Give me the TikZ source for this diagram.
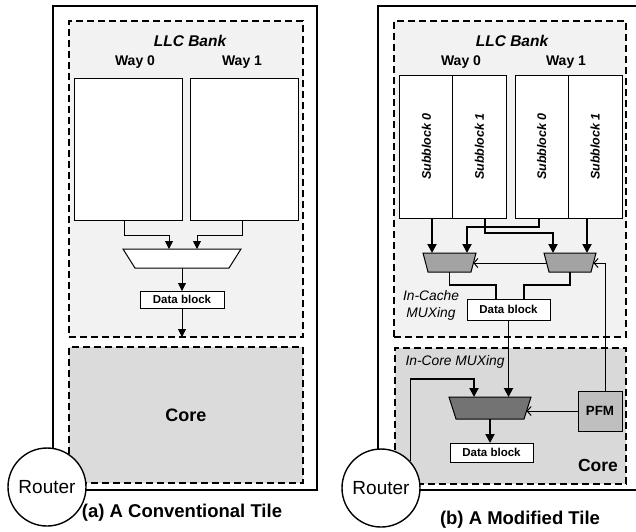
\documentclass[tikz,border=0pt]{standalone}
\usepackage{fontspec}
\setmainfont{Liberation Sans}
\usetikzlibrary{arrows.meta,calc}
\begin{document}
\begin{tikzpicture}[x=1pt,y=-1pt,
  frame/.style={line width=1.4pt},
  region/.style={draw, dash pattern=on 7pt off 4pt, line width=1.1pt, inner sep=0pt, outer sep=0pt},
  cell/.style={draw, fill=white, line width=1pt, inner sep=0pt, outer sep=0pt},
  muxbox/.style={inner sep=0pt, outer sep=0pt},
  muxline/.style={line width=1pt},
  thinarr/.style={line width=0.9pt, -{Triangle[length=8pt,width=8pt]}},
  thickarr/.style={line width=1.9pt, -{Triangle[length=9pt,width=9pt]}},
  bus/.style={line width=1.9pt},
  ctrl/.style={line width=1pt, -{Straight Barb[length=4pt,width=9pt]}},
  router/.style={draw, circle, fill=white, line width=1.4pt, minimum size=78pt, inner sep=0pt,
    font=\fontsize{19}{22}\selectfont},
  title/.style={font=\fontsize{15.5}{18}\selectfont\bfseries\itshape},
  way/.style={font=\fontsize{14}{17}\selectfont\bfseries},
  dblock/.style={font=\fontsize{11.5}{14}\selectfont\bfseries},
  caption/.style={font=\fontsize{18.5}{22}\selectfont\bfseries},
  sub/.style={cell, minimum width=53.5pt, minimum height=143pt,
    font=\fontsize{12.5}{15}\selectfont\bfseries\itshape},
  note/.style={font=\fontsize{13.8}{16.5}\selectfont\itshape}
]
\useasboundingbox (0,0) rectangle (636,531);

% ---------------- (a) conventional tile ----------------
\draw[frame] (53,6) rectangle (317,490);
\node[region, fill=black!5, minimum width=234pt, minimum height=316pt] (llcA) at (186,179) {};
\node[region, fill=black!14, minimum width=234pt, minimum height=136pt,
  font=\fontsize{18}{21}\selectfont\bfseries] (coreA) at (186,415) {Core};
\node[title] (llcAt) at (190,41) {LLC Bank};
\node[way] (w0At) at (135,62) {Way 0};
\node[way] (w1At) at (242,62) {Way 1};
\node[cell, minimum width=108pt, minimum height=142pt] (w0A) at (128,149) {};
\node[cell, minimum width=108pt, minimum height=142pt] (w1A) at (244,149) {};
\node[muxbox, minimum width=118pt, minimum height=19pt] (muxA) at (182,258.5) {};
\draw[muxline, fill=white] (muxA.north west) -- (muxA.north east)
  -- ([xshift=-12pt]muxA.south east) -- ([xshift=12pt]muxA.south west) -- cycle;
\node[cell, dblock, minimum width=84pt, minimum height=17pt] (dbA) at (182,299.5) {Data block};
\draw[thinarr] ([xshift=-4pt]w0A.south) -- ++(0,15) -| ([xshift=-13pt]muxA.north);
\draw[thinarr] ([xshift=-2pt]w1A.south) -- ++(0,15) -| ([xshift=15pt]muxA.north);
\draw[thinarr] (muxA.south) -- (dbA.north);
\draw[thinarr] (dbA.south) -- (dbA.south |- llcA.south);
\node[router] (rA) at (47,487) {Router};
\node[caption] (capA) at (182,513) {(a) A Conventional Tile};

% ---------------- (b) modified tile ----------------
\draw[frame] (636,6) -- (378,6) -- (378,490) -- (636,490);
\node[region, fill=black!5, minimum width=232pt, minimum height=316pt] (llcB) at (510,179) {};
\node[region, fill=black!15, minimum width=231pt, minimum height=136pt] (coreB) at (510.5,416) {};
\node[title] (llcBt) at (512,41) {LLC Bank};
\node[way] (w0Bt) at (461,62) {Way 0};
\node[way] (w1Bt) at (566,62) {Way 1};
\node[sub] (s00) at (426.5,146.5) {\rotatebox{90}{Subblock 0}};
\node[sub] (s01) at (479.5,146.5) {\rotatebox{90}{Subblock 1}};
\node[sub] (s10) at (541.75,146.5) {\rotatebox{90}{Subblock 0}};
\node[sub] (s11) at (595.25,146.5) {\rotatebox{90}{Subblock 1}};

% first-level multiplexers inside the cache
\node[muxbox, minimum width=53pt, minimum height=19pt] (mux1) at (449.5,262.5) {};
\node[muxbox, minimum width=52pt, minimum height=19pt] (mux2) at (570,262.5) {};
\draw[muxline, fill=black!36] (mux1.north west) -- (mux1.north east)
  -- ([xshift=-5pt]mux1.south east) -- ([xshift=5pt]mux1.south west) -- cycle;
\draw[muxline, fill=black!36] (mux2.north west) -- (mux2.north east)
  -- ([xshift=-5pt]mux2.south east) -- ([xshift=5pt]mux2.south west) -- cycle;
\coordinate (m1a) at ([xshift=-17.5pt]mux1.north);
\coordinate (m1b) at ([xshift=17.5pt]mux1.north);
\coordinate (m2a) at ([xshift=-17pt]mux2.north);
\coordinate (m2b) at ([xshift=17pt]mux2.north);
\coordinate (m1r) at (473.2,263);
\coordinate (m2l) at (546.8,263);
\coordinate (m2r) at (593.4,263);

\draw[thickarr] (s00.south -| m1a) -- (m1a);
\draw[thickarr] (s11.south -| m2b) -- (m2b);
\draw[thickarr] ([xshift=5.5pt]s01.south) -- ++(0,15) -| (m2a);
\draw[thickarr] ([xshift=-2.75pt]s10.south) -- ++(0,9) -| (m1b);
\draw[ctrl] (m2l) -- (m1r);

\node[cell, dblock, minimum width=83pt, minimum height=21pt] (dbB1) at (508.5,309.5) {Data block};
\draw[bus] (mux1.south) -- ++(0,13) -| ([xshift=-12.5pt]dbB1.north);
\draw[bus] (mux2.south) -- ++(0,13) -| ([xshift=15.5pt]dbB1.north);
\node[note, align=center] (ncache) at (431,305.5) {In-Cache\\MUXing};

% multiplexer inside the core
\node[note, anchor=west] (ncore) at (402,362) {In-Core MUXing};
\node[muxbox, minimum width=82pt, minimum height=22pt] (mux3) at (490,408) {};
\draw[muxline, fill=black!55] (mux3.north west) -- (mux3.north east)
  -- ([xshift=-7pt]mux3.south east) -- ([xshift=7pt]mux3.south west) -- cycle;
\coordinate (m3a) at ([xshift=-16pt]mux3.north);
\coordinate (m3r) at (526.5,411);
\node[draw, fill=black!25, line width=1pt, inner sep=0pt, outer sep=0pt,
  minimum width=44pt, minimum height=40pt, font=\fontsize{13.4}{16}\selectfont\bfseries]
  (pfm) at (600,411) {PFM};
\node[cell, dblock, minimum width=83pt, minimum height=19pt] (dbB2) at (491.5,452.5) {Data block};
\node[font=\fontsize{17.5}{21}\selectfont\bfseries] (coreBt) at (598,465) {Core};

\draw[thickarr] (dbB1.south) -- (dbB1.south |- mux3.north);
\draw[thickarr] (mux3.south) -- (mux3.south |- dbB2.north);
\draw[ctrl] (pfm.west |- m3r) -- (m3r);
\draw[ctrl] ([xshift=5pt]pfm.north) |- (m2r);

\node[router] (rB) at (381,488) {Router};
\draw[bus, -{Triangle[length=9pt,width=9pt]}] (rB.42) |- ([yshift=18pt]m3a) -- (m3a);
\node[caption] (capB) at (520,520) {(b) A Modified Tile};
\end{tikzpicture}
\end{document}
